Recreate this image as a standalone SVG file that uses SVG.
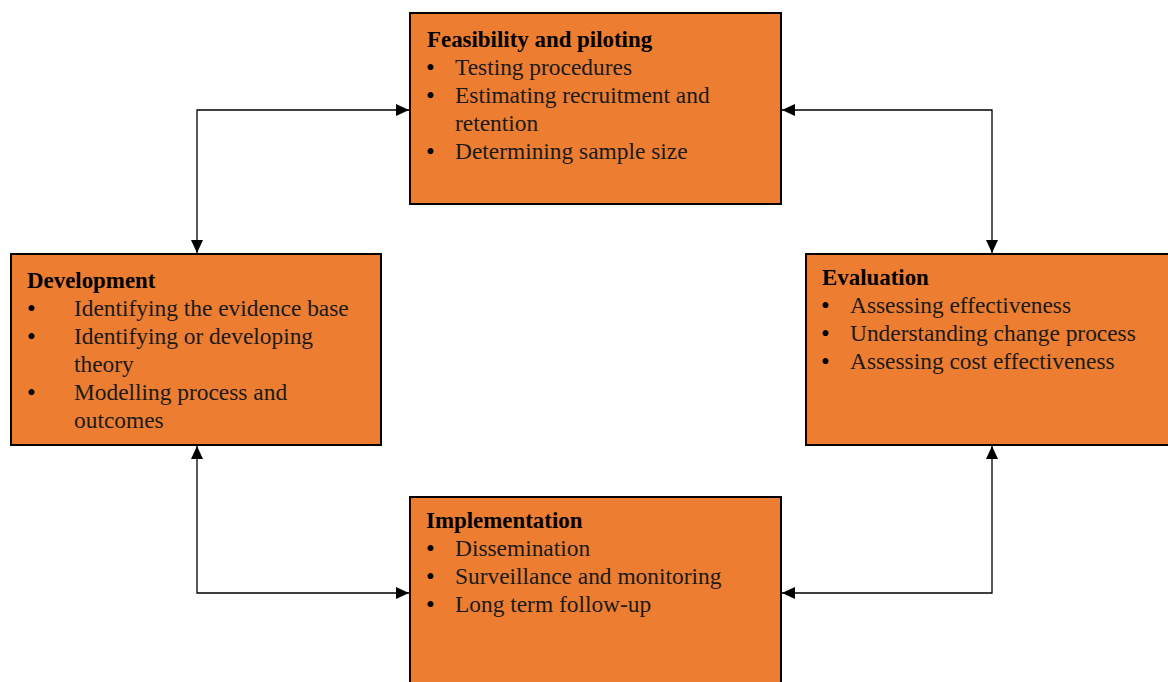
<svg xmlns="http://www.w3.org/2000/svg" width="1168" height="682" viewBox="0 0 1168 682">
  <style>
    .box { fill: #ED7D31; stroke: #000; stroke-width: 2; }
    .title { font-family: "Liberation Serif", "Times New Roman", serif; font-size: 22.9px; font-weight: bold; fill: #000; }
    .item { font-family: "Liberation Serif", "Times New Roman", serif; font-size: 23.4px; fill: #1a1a1a; }
    .bul { font-family: "Liberation Serif", "Times New Roman", serif; font-size: 25px; fill: #000; }
    .conn { fill: none; stroke: #000; stroke-width: 1.3; }
  </style>
  <defs>
    <marker id="arrow" viewBox="0 0 13 12" refX="13" refY="6" markerWidth="13" markerHeight="12" markerUnits="userSpaceOnUse" orient="auto-start-reverse">
      <path d="M0,0 L13,6 L0,12 Z" fill="#000"/>
    </marker>
  </defs>
  <rect width="1168" height="682" fill="#fff"/>

  <!-- connectors between stages -->
  <g id="connectors">
    <path class="conn" d="M197,253 V110 H409" marker-start="url(#arrow)" marker-end="url(#arrow)"/>
    <path class="conn" d="M782,110 H992 V253" marker-start="url(#arrow)" marker-end="url(#arrow)"/>
    <path class="conn" d="M197,446 V593 H409" marker-start="url(#arrow)" marker-end="url(#arrow)"/>
    <path class="conn" d="M782,593 H992 V446" marker-start="url(#arrow)" marker-end="url(#arrow)"/>
  </g>

  <!-- Feasibility and piloting -->
  <g id="feasibility">
    <rect class="box" x="410" y="13" width="371" height="191"/>
    <text class="title" x="427" y="47">Feasibility and piloting</text>
    <text class="bul" x="426" y="76">•</text><text class="item" x="455" y="75">Testing procedures</text>
    <text class="bul" x="426" y="104">•</text><text class="item" x="455" y="103">Estimating recruitment and</text>
    <text class="item" x="455" y="131">retention</text>
    <text class="bul" x="426" y="160">•</text><text class="item" x="455" y="159">Determining sample size</text>
  </g>

  <!-- Development -->
  <g id="development">
    <rect class="box" x="11" y="254" width="370" height="191"/>
    <text class="title" x="27" y="288">Development</text>
    <text class="bul" x="27" y="317">•</text><text class="item" x="74" y="316">Identifying the evidence base</text>
    <text class="bul" x="27" y="345">•</text><text class="item" x="74" y="344">Identifying or developing</text>
    <text class="item" x="74" y="372">theory</text>
    <text class="bul" x="27" y="401">•</text><text class="item" x="74" y="400">Modelling process and</text>
    <text class="item" x="74" y="428">outcomes</text>
  </g>

  <!-- Evaluation -->
  <g id="evaluation">
    <rect class="box" x="806" y="254" width="370" height="191"/>
    <text class="title" x="822" y="285">Evaluation</text>
    <text class="bul" x="821" y="314">•</text><text class="item" x="850" y="313">Assessing effectiveness</text>
    <text class="bul" x="821" y="342">•</text><text class="item" x="850" y="341">Understanding change process</text>
    <text class="bul" x="821" y="370">•</text><text class="item" x="850" y="369">Assessing cost effectiveness</text>
  </g>

  <!-- Implementation -->
  <g id="implementation">
    <rect class="box" x="410" y="497" width="371" height="200"/>
    <text class="title" x="426" y="528">Implementation</text>
    <text class="bul" x="426" y="557">•</text><text class="item" x="455" y="556">Dissemination</text>
    <text class="bul" x="426" y="585">•</text><text class="item" x="455" y="584">Surveillance and monitoring</text>
    <text class="bul" x="426" y="613">•</text><text class="item" x="455" y="612">Long term follow-up</text>
  </g>
</svg>
